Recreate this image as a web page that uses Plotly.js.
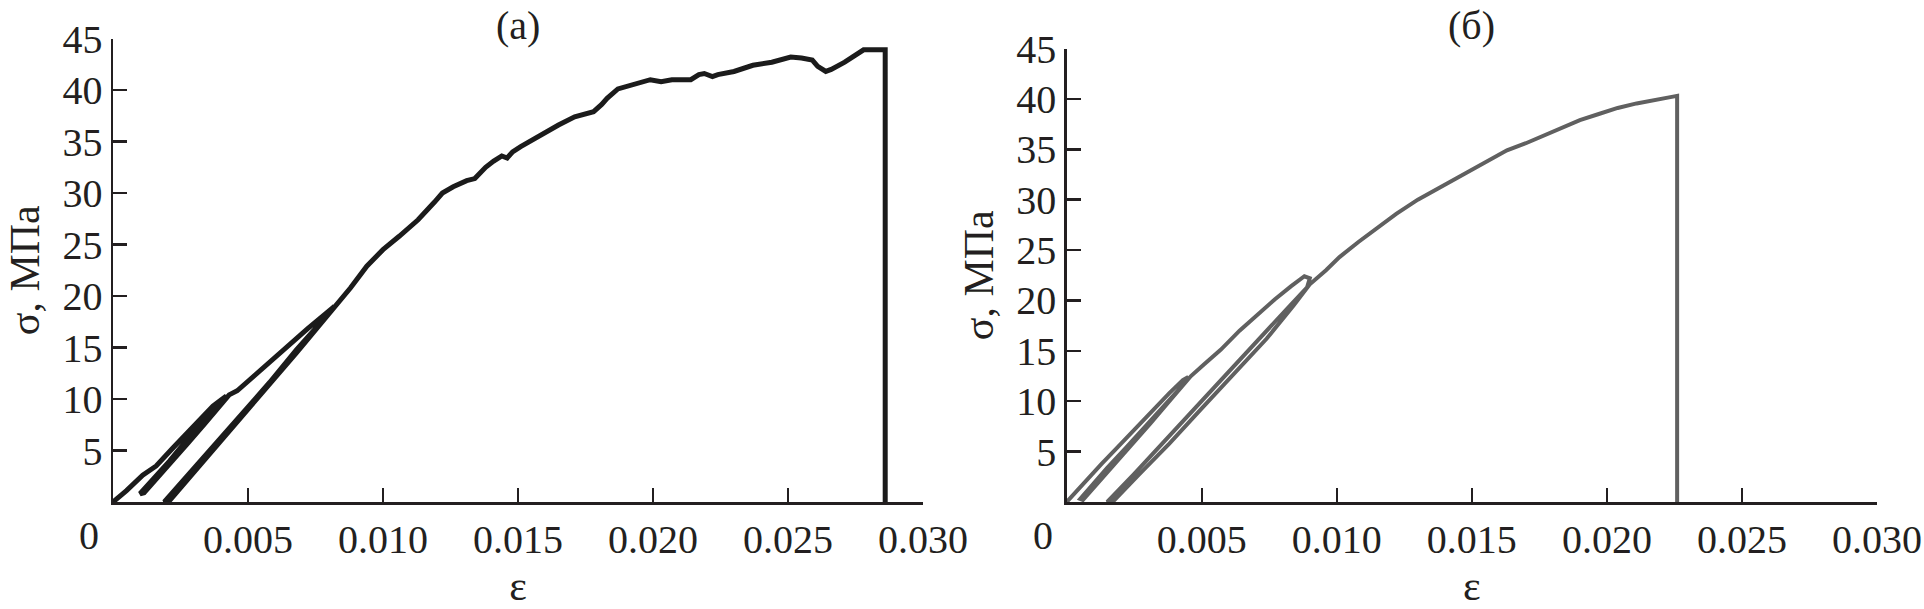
<!DOCTYPE html>
<html>
<head>
<meta charset="utf-8">
<script src="https://cdn.plot.ly/plotly-3.0.1.min.js"></script>
<style>html,body{margin:0;padding:0;background:#fff;}#chart{width:1924px;height:609px;}</style>
</head>
<body>
<div id="chart"></div>
<script>
// Panel (а): strain and stress along the loading path (two unload/reload cycles)
const strainA = [0, 0.0005, 0.0011, 0.0016, 0.0022, 0.0030, 0.0034, 0.0037, 0.0040, 0.0042,
  0.0040, 0.0034, 0.0027, 0.0021, 0.0016, 0.0012, 0.0010,
  0.00115, 0.0017, 0.0022, 0.0028, 0.0034, 0.0039, 0.0043,
  0.0046, 0.0052, 0.0058, 0.0063, 0.0068, 0.0072, 0.0077, 0.0082,
  0.0080, 0.0075, 0.0068, 0.0058, 0.0048, 0.0038, 0.0028, 0.0019,
  0.00205, 0.0029, 0.0039, 0.0049, 0.0059, 0.0068, 0.0074, 0.0079, 0.0083,
  0.0088, 0.0094, 0.0100, 0.0106, 0.0113, 0.0119, 0.0122, 0.0126, 0.0131, 0.0134, 0.0138, 0.0141,
  0.0144, 0.0146, 0.0148, 0.0151, 0.0158, 0.0165, 0.0171, 0.0175, 0.0178, 0.0181, 0.0183, 0.0187,
  0.0194, 0.0199, 0.0203, 0.0207, 0.0210, 0.0214, 0.0217, 0.0219, 0.0222, 0.0224, 0.0230, 0.0237,
  0.0244, 0.0251, 0.0255, 0.0259, 0.0261, 0.0264, 0.0266, 0.0271, 0.0278, 0.0286, 0.0286];
const stressA = [0, 1.1, 2.6, 3.5, 5.2, 7.3, 8.4, 9.3, 9.9, 10.3,
  9.6, 7.9, 5.9, 4.0, 2.6, 1.4, 0.8,
  0.9, 2.5, 3.9, 5.8, 7.6, 9.2, 10.4,
  10.8, 12.2, 13.6, 14.8, 15.9, 16.8, 17.9, 19.0,
  18.3, 16.9, 14.8, 11.6, 8.6, 5.6, 2.7, 0.0,
  0.0, 2.6, 5.6, 8.6, 11.6, 14.5, 16.4, 18.0, 19.1,
  20.8, 22.9, 24.5, 25.8, 27.4, 29.1, 30.0, 30.6, 31.2, 31.4, 32.5, 33.1,
  33.6, 33.4, 34.0, 34.5, 35.6, 36.6, 37.4, 37.7, 37.9, 38.6, 39.2, 40.1,
  40.6, 41.0, 40.8, 41.0, 41.0, 41.0, 41.5, 41.6, 41.3, 41.5, 41.8, 42.4,
  42.7, 43.2, 43.1, 42.9, 42.3, 41.8, 42.0, 42.7, 43.9, 43.9, 0];

// Panel (б)
const strainB = [0, 0.0003, 0.0007, 0.0011, 0.0013, 0.0018, 0.0025, 0.0032, 0.0038, 0.0043, 0.0045,
  0.0043, 0.0037, 0.0030, 0.0022, 0.0015, 0.0009, 0.0005,
  0.0006, 0.0011, 0.0017, 0.0024, 0.0031, 0.0038, 0.0044, 0.0046,
  0.0051, 0.0057, 0.0064, 0.0071, 0.0077, 0.0083, 0.0088, 0.0090,
  0.0089, 0.0082, 0.0072, 0.0060, 0.0048, 0.0036, 0.0025, 0.0015,
  0.0017, 0.0027, 0.0038, 0.0050, 0.0062, 0.0074, 0.0084, 0.0090,
  0.0096, 0.0101, 0.0108, 0.0115, 0.0122, 0.0130, 0.0136, 0.0143, 0.0149, 0.0156, 0.0163,
  0.0170, 0.0177, 0.0184, 0.0190, 0.0197, 0.0204, 0.0211, 0.0218, 0.0224, 0.0226, 0.0226];
const stressB = [0, 0.9, 2.1, 3.3, 3.8, 5.2, 7.2, 9.1, 10.8, 12.1, 12.4,
  11.6, 9.8, 7.7, 5.4, 3.4, 1.6, 0.3,
  0.2, 1.7, 3.5, 5.6, 7.8, 10.0, 11.8, 12.5,
  13.7, 15.1, 17.0, 18.7, 20.1, 21.4, 22.4, 22.2,
  21.3, 19.3, 16.4, 12.9, 9.4, 5.9, 2.8, 0.0,
  0.0, 2.8, 5.8, 9.3, 12.7, 16.2, 19.5, 21.6,
  23.0, 24.3, 25.8, 27.2, 28.6, 30.0, 30.9, 31.9, 32.9, 33.9, 34.9,
  35.6, 36.4, 37.2, 37.9, 38.5, 39.1, 39.55, 39.95, 40.2, 40.3, 0];

const xTickVals = [0.005, 0.010, 0.015, 0.020, 0.025, 0.030];
const xTickText = ['0.005', '0.010', '0.015', '0.020', '0.025', '0.030'];
const yTickVals = [5, 10, 15, 20, 25, 30, 35, 40, 45];
const yTickText = ['5', '10', '15', '20', '25', '30', '35', '40', '45'];
const panelTitles = ['(а)', '(б)'];
const xTitle = 'ε';
const yTitle = 'σ, МПа';

const W = 1924, H = 609;
const axColor = '#231f20';
const fontFam = '"Liberation Serif", "Times New Roman", serif';

const traces = [
  {x: strainA, y: stressA, xaxis: 'x', yaxis: 'y', mode: 'lines',
   line: {color: '#1b1b1b', width: 5}, hoverinfo: 'skip'},
  {x: strainB, y: stressB, xaxis: 'x2', yaxis: 'y2', mode: 'lines',
   line: {color: '#606060', width: 4}, hoverinfo: 'skip'}
];

function xa(domain) {
  return {domain: domain, range: [0, 0.030], tickmode: 'array', tickvals: xTickVals, ticktext: xTickText,
    ticks: 'inside', ticklen: 14, tickwidth: 2.5, tickcolor: axColor,
    showline: true, linecolor: axColor, linewidth: 2.5, showgrid: false, zeroline: false,
    tickfont: {family: fontFam, size: 40, color: axColor},
    title: {text: xTitle, font: {family: fontFam, size: 42, color: axColor}, standoff: 10},
    fixedrange: true};
}
function ya(domain, anchor) {
  return {domain: domain, range: [0, 45], tickmode: 'array', tickvals: yTickVals, ticktext: yTickText,
    anchor: anchor,
    ticks: 'inside', ticklen: 14, tickwidth: 2.5, tickcolor: axColor,
    showline: true, linecolor: axColor, linewidth: 2.5, showgrid: false, zeroline: false,
    tickfont: {family: fontFam, size: 40, color: axColor},
    title: {text: yTitle, font: {family: fontFam, size: 42, color: axColor}, standoff: 10},
    fixedrange: true};
}

const layout = {
  width: W, height: H, margin: {l: 0, r: 0, t: 0, b: 0},
  paper_bgcolor: '#fff', plot_bgcolor: '#fff', showlegend: false,
  xaxis: Object.assign(xa([113 / W, 923 / W]), {anchor: 'y'}),
  yaxis: ya([(H - 502) / H, (H - 38.5) / H], 'x'),
  xaxis2: Object.assign(xa([1066.7 / W, 1877 / W]), {anchor: 'y2'}),
  yaxis2: ya([(H - 502) / H, (H - 48.5) / H], 'x2'),
  annotations: [
    {xref: 'x domain', yref: 'paper', x: 0.5, y: (H - 26) / H, text: panelTitles[0], showarrow: false,
     xanchor: 'center', yanchor: 'middle', font: {family: fontFam, size: 40, color: axColor}},
    {xref: 'x2 domain', yref: 'paper', x: 0.5, y: (H - 26) / H, text: panelTitles[1], showarrow: false,
     xanchor: 'center', yanchor: 'middle', font: {family: fontFam, size: 40, color: axColor}},
    {xref: 'x', yref: 'paper', x: 0, y: (H - 535.5) / H, text: '0', showarrow: false, xshift: -24,
     xanchor: 'center', yanchor: 'middle', font: {family: fontFam, size: 40, color: axColor}},
    {xref: 'x2', yref: 'paper', x: 0, y: (H - 535.5) / H, text: '0', showarrow: false, xshift: -24,
     xanchor: 'center', yanchor: 'middle', font: {family: fontFam, size: 40, color: axColor}}
  ]
};

Plotly.newPlot('chart', traces, layout, {staticPlot: true, displayModeBar: false});
</script>
</body>
</html>
